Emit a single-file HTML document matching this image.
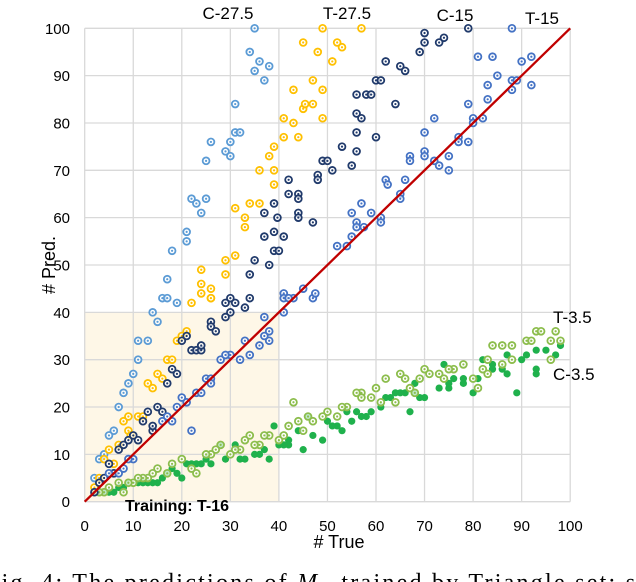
<!DOCTYPE html>
<html><head><meta charset="utf-8"><style>
html,body{margin:0;padding:0;background:#fff;overflow:hidden}
svg{display:block;font-family:"Liberation Sans",sans-serif}
</style></head><body>
<svg id="chart" width="636" height="582" viewBox="0 0 636 582" xmlns="http://www.w3.org/2000/svg">
<g id="grid"></g>
<g id="ticks"></g>
<g id="marks"></g>
<g id="labels"></g>
</svg>
<script>
const xTicks=[0,10,20,30,40,50,60,70,80,90,100];
const yTicks=[0,10,20,30,40,50,60,70,80,90,100];
const trainingBox=[40,40];
const c275X=[35,34,36,35,37,38,31,31,32,26,25,30,29,30,22,23,25,24,21,21,18,17,16,14,15,11,13,11,10,9,8,7,6,5,4,3,2,17,19,6];
const c275Y=[100,95,93,91,89,92,84,78,78,76,72,76,74,73,64,63,64,61,57,55,53,47,43,40,38,34,34,30,27,25,23,20,15,14,10,9,5,43,42,6];
const t275X=[49,57,45,48,52,53,51,47,43,49,45,45.4,47,41,43,49,41,44,39,38,36,39,39,34,36,31,33,33,24,29,31,29,24,26,24,26,22,26,20,21,19,17,18,15,16,13,14,8,9,11,12,9,9.5,7,5,6,4,3,2];
const t275Y=[100,100,97,95,97,96,93,89,87,87,83,84,84,81,80,81,77,77,75,73,70,70,67,63,63,62,60,58,49,51,52,48,46,45,44,43,42,43,35,36,34,30,30,27,26,25,24,17,18,18,18,15,14,12,11,8,9,5,3];
const c15X=[79,70,70,74,73,69,62,65,66,60,61,56,58,59,64,56,57,56,60,53,56,49,50,51,55,42,48,48,44,44,39,37,39.7,42,44,44,47,39,37,41,39,40,35,38,34,30,34,29,31,33,30,29,26,26,27,21,20,22,23,24,24,18,19,17,15,16,13,12,14,14,10,9,11,8,7,5,6,4,3,2];
const c15Y=[100,99,97,98,97,95,93,92,91,89,89,86,86,86,84,82,81,78,77,75,74,72,72,70,71,68,69,68,65,64,63,61,60,65,61,60,59,57,56,56,53,53,51,50,48,43,43,42,42,41,40,39,38,37,36,35,34,32,32,32,33,28,27,25,20,19,19,17,15,16,14,13,13,12,11,8,6,5,4,2];
const t15X=[88,92,90,81,84,85,88,89,88,92,83,83,79,80,80,82,72,70,77,77,79,70,70,67,67,72,73,75,75,62,62.4,66,65,65,61,57,55,59,56,56,57.5,61,55,52,54,41,41,43,45,47,47.5,41,42,37,38,38,37,36,34,33,32,30,28,29,25,26,26,23,24,21,20,19,18,17,16,22,10,9,7,8,5];
const t15Y=[100,94,93,94,94,90,89,89,87,88,88,85,84,81,80,81,81,78,77,76,76,74,73,73,72,72,71,73,70,68,67,68,65,64,60,63,61,61,59,58,58,59,56,54,54,44,43,43,45,43,44,40,43,39,36,34,35,33,31,34,30,31,30,31,26,26,25,23,23,21,22,20,17,18,17,15,9,9,6,7,6];
const t35X=[97,93,94,91,92,98,96,96,84,86,88,83,86,88,82,83,80,81,78,76,75,73,74,70,71,69,67,68,66,65,62,60,59,57,57,56,64,61,54,53,52,50,49,47,46,45,44,42,43,41,40,38,37,36,35,34,33,32,31,30,28,27,26,25,23,22,20,18,17,15,14,13,12,11,10,9,7,8,5,4,3];
const t35Y=[36,36,36,34,34,34,34,30,33,33,33,30,29,30,28,27,26,24,29,28,28,27,26,28,27,26,24,23,26,27,26,24,22,23,22,23,21,21,20,20,18,19,18,17,18,15,17,16,21,14,13,14,14,12,12,14,13,11,11,10,12,11,10,10,6,7,9,8,6,7,6,5,5,5,4,4,4,2,3,2,2];
const c35X=[98,97,95,93,93,93,91,90,89,87,87,86,84,84,82,81,80,78,78,76,75,75,74,73,70,69,68,68,67,66,65,64,63,62,61,59,58,57,56,55,54,53,52,51,50,49,47,46,45,44,42,42,41,40,39,38,37,36,35,33,32,31,29,28,26,25,24,23,22,21,20,19,18,17,16,15,14,13,12,11,9,8,7,6,5,4,3,2];
const c35Y=[33,31,32,32,28,27,31,30,23,31,27,28,29,28,30,26,23,26,25,26,25,24,29,24,22,22,25,23,19,23,23,23,22,22,20,19,18,18,19,17,19,15,16,16,17,13,14,18,11,15,13,12,12,12,16,9,11,10,10,9,9,12,9,12,8,9,8,8,8,8,5,6,7,6,5,4,4,4,4,4,4,3,3,2,2,2,2,2];

const NS="http://www.w3.org/2000/svg";
const X0=84.7,X1=570.2,Y0=501.7,Y1=28.3;
const sx=v=>X0+(X1-X0)*v/100;
const sy=v=>Y0-(Y0-Y1)*v/100;
function mk(tag,attrs,parent){const e=document.createElementNS(NS,tag);for(const k in attrs)e.setAttribute(k,attrs[k]);parent.appendChild(e);return e;}
const grid=document.getElementById('grid'),ticks=document.getElementById('ticks'),marks=document.getElementById('marks'),labels=document.getElementById('labels');

const box=mk('rect',{x:sx(0),y:sy(trainingBox[1]),width:sx(trainingBox[0])-sx(0),height:sy(0)-sy(trainingBox[1]),fill:'#fef7e7'},grid);


xTicks.forEach(t=>{
  const l=mk('line',{x1:sx(t),x2:sx(t),y1:sy(0),y2:sy(100),stroke:'#d9d9d9','stroke-width':1.3},grid);
  
  
  const tx=mk('text',{x:sx(t),y:531,'text-anchor':'middle','font-size':15,fill:'#000'},ticks);
  tx.textContent=t;
  
  
});
yTicks.forEach(t=>{
  const l=mk('line',{x1:sx(0),x2:sx(100),y1:sy(t),y2:sy(t),stroke:'#d9d9d9','stroke-width':1.3},grid);
  
  
  const tx=mk('text',{x:70,y:sy(t)+5.5,'text-anchor':'end','font-size':15,fill:'#000'},ticks);
  tx.textContent=t;
  
  
});

function ringSeries(xs,ys,col,name){
  const g=mk('g',{},marks);
  
  
  xs.forEach((x,i)=>{
    const c=mk('circle',{cx:sx(x),cy:sy(ys[i]),r:3.4,fill:'#fff','fill-opacity':0.7,stroke:col,'stroke-width':1.8},g);
    
    
    mk('circle',{cx:sx(x),cy:sy(ys[i]),r:1.1,fill:col},g);
  });
}
function solidSeries(xs,ys,col,name){
  const g=mk('g',{},marks);
  
  
  xs.forEach((x,i)=>{
    const c=mk('circle',{cx:sx(x),cy:sy(ys[i]),r:3.6,fill:col},g);
    
    
  });
}
solidSeries(c35X,c35Y,'#1fb14c','series-c-3-5');
ringSeries(t35X,t35Y,'#8cbd4c','series-t-3-5');
ringSeries(c275X,c275Y,'#5b9bd5','series-c-27-5');
ringSeries(t275X,t275Y,'#ffc000','series-t-27-5');
ringSeries(c15X,c15Y,'#203a6b','series-c-15');
ringSeries(t15X,t15Y,'#4472c4','series-t-15');
const diag=mk('line',{x1:sx(0),y1:sy(0),x2:sx(100),y2:sy(100),stroke:'#c00000','stroke-width':2.3},marks);



const lbls=[['C-27.5',228,19,'middle','label-c-27-5'],['T-27.5',347,19,'middle','label-t-27-5'],['C-15',455,21,'middle','label-c-15'],['T-15',542,24,'middle','label-t-15'],['T-3.5',553,323,'start','label-t-3-5'],['C-3.5',553,380,'start','label-c-3-5']];
lbls.forEach(l=>{
  const t=mk('text',{x:l[1],y:l[2],'text-anchor':l[3],'font-size':17,fill:'#000'},labels);
  t.textContent=l[0];
  
  
});
const tr=mk('text',{x:125,y:511,'font-size':16,'font-weight':'bold',fill:'#000'},labels);
tr.textContent='Training: T-16';


const xt=mk('text',{x:339,y:548,'text-anchor':'middle','font-size':18,fill:'#000'},labels);
xt.textContent='# True';


const yt=mk('text',{x:0,y:0,'text-anchor':'middle','font-size':18,fill:'#000',transform:'translate(55,265) rotate(-90)'},labels);
yt.textContent='# Pred.';


const cap=mk('text',{x:-14,y:590,'font-size':24,fill:'#000','font-family':'Liberation Serif, serif',textLength:658,lengthAdjust:'spacing'},labels);
cap.innerHTML='Fig. 4: The predictions of <tspan font-style="italic">M</tspan><tspan font-style="italic" font-size="16" dy="4">G</tspan><tspan dy="-4"> trained by Triangle set; si</tspan>';


</script>
</body></html>
